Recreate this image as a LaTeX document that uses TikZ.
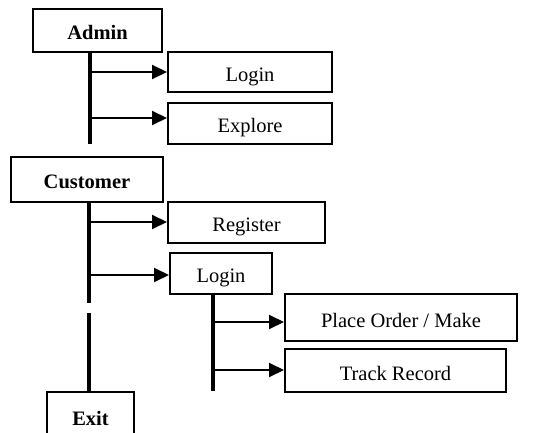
\documentclass[tikz,border=0pt]{standalone}
\usepackage{fontspec}
\setmainfont{Liberation Serif}
\usetikzlibrary{arrows.meta}

\begin{document}
\begin{tikzpicture}[x=1pt,y=-1pt,>={Triangle[length=15pt,width=14pt]},
  menubox/.style={draw,line width=2pt,inner sep=0pt,text height=19pt,text depth=0pt,font=\fontsize{20.5}{24}\selectfont},
  rolebox/.style={menubox,font=\fontsize{20.5}{24}\selectfont\bfseries},
  trunk/.style={line width=3.5pt},
  branch/.style={->,line width=2pt}]
\useasboundingbox (0,0) rectangle (539,433);
% admin menu
\node[rolebox,minimum width=129pt,minimum height=43pt] (admin) at (97.5,30.5) {Admin};
\node[menubox,minimum width=164pt,minimum height=40pt] (a_login) at (250,72) {Login};
\node[menubox,minimum width=164pt,minimum height=41pt] (a_explore) at (250,123.5) {Explore};
\coordinate (a1) at (90,72);
\coordinate (a2) at (90,118);
\coordinate (a_end) at (90,144);
\draw[trunk] (admin.south -| a1)--(a_end);
\draw[branch] (a1)--(a1 -| a_login.west);
\draw[branch] (a2)--(a2 -| a_explore.west);
% customer menu
\node[rolebox,minimum width=152pt,minimum height=45pt] (cust) at (87,179.5) {Customer};
\node[menubox,minimum width=157pt,minimum height=41pt] (c_reg) at (246.5,222.5) {Register};
\node[menubox,minimum width=102pt,minimum height=41pt] (c_login) at (221,273.5) {Login};
\node[menubox,minimum width=232pt,minimum height=47pt] (c_order) at (401,317.5) {Place Order / Make};
\node[menubox,minimum width=221pt,minimum height=43pt] (c_track) at (395.5,370.5) {Track Record};
\node[rolebox,minimum width=87pt,minimum height=48pt] (exit) at (90.5,416) {Exit};
\coordinate (c1) at (89,222);
\coordinate (c2) at (89,275);
\coordinate (c_gap1) at (89,303);
\coordinate (c_gap2) at (89,313);
\draw[trunk] (cust.south -| c1)--(c_gap1);
\draw[trunk] (c_gap2)--(exit.north -| c_gap2);
\draw[branch] (c1)--(c1 -| c_reg.west);
\draw[branch] (c2)--(c2 -| c_login.west);
% sub menu after login
\coordinate (l1) at (213,322);
\coordinate (l2) at (213,370);
\coordinate (l_end) at (213,391);
\draw[trunk] (c_login.south -| l1)--(l_end);
\draw[branch] (l1)--(l1 -| c_order.west);
\draw[branch] (l2)--(l2 -| c_track.west);
\end{tikzpicture}
\end{document}
